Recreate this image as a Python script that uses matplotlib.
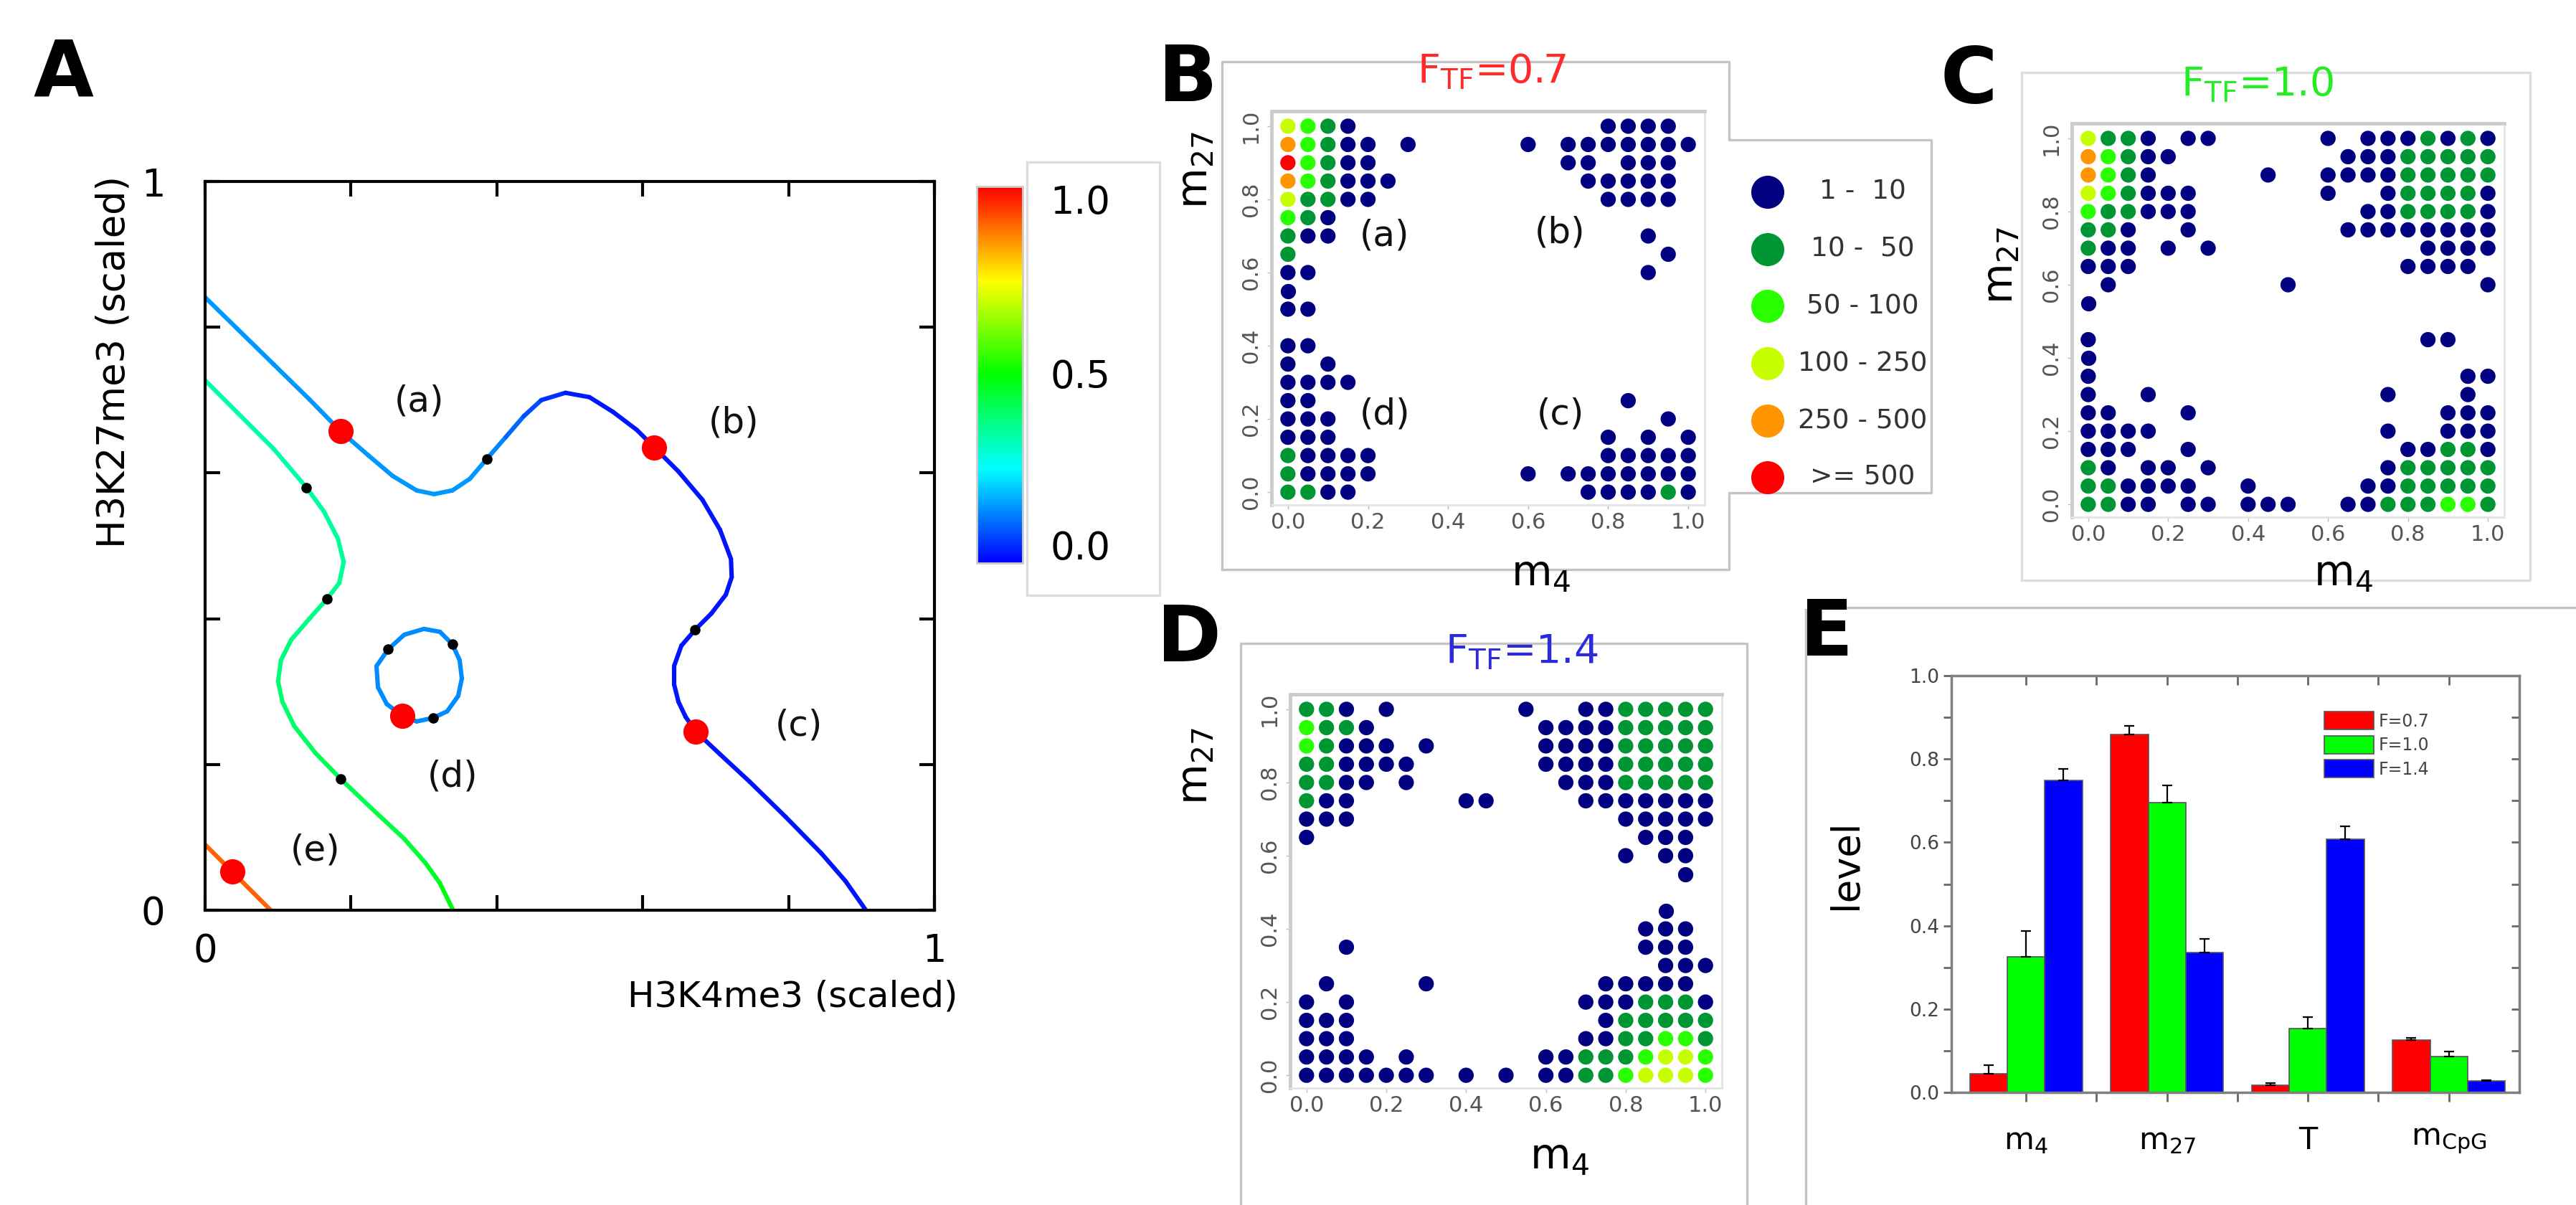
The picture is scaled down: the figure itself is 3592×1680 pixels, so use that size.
import numpy as np
import matplotlib
matplotlib.use('Agg')
import matplotlib.pyplot as plt
from matplotlib.colors import LinearSegmentedColormap, Normalize
from matplotlib.collections import LineCollection
import matplotlib.colorbar as mcolorbar

plt.rcParams['font.family'] = ['DejaVu Sans']

# ------------------------------------------------------------------ data: panel A
c1_x = [0.000, 0.045, 0.094, 0.143, 0.186, 0.224, 0.257, 0.290, 0.314, 0.339,
        0.363, 0.386, 0.412, 0.437, 0.461, 0.494, 0.527, 0.559, 0.592, 0.616,
        0.649, 0.682, 0.706, 0.721, 0.722, 0.714, 0.694, 0.672, 0.653, 0.643,
        0.643, 0.649, 0.659, 0.673, 0.706, 0.747, 0.796, 0.845, 0.878, 0.906]
c1_y = [0.841, 0.797, 0.749, 0.701, 0.657, 0.624, 0.596, 0.576, 0.571, 0.576,
        0.592, 0.619, 0.649, 0.678, 0.700, 0.710, 0.704, 0.684, 0.659, 0.635,
        0.602, 0.563, 0.522, 0.482, 0.457, 0.433, 0.407, 0.385, 0.363, 0.335,
        0.310, 0.286, 0.265, 0.245, 0.214, 0.176, 0.128, 0.078, 0.040, 0.000]
c1_v = [0.15, 0.15, 0.15, 0.15, 0.15, 0.15, 0.15, 0.15, 0.15, 0.15,
        0.15, 0.15, 0.12, 0.09, 0.06, 0.04, 0.02, 0.02, 0.02, 0.02,
        0.02, 0.02, 0.02, 0.02, 0.02, 0.02, 0.02, 0.02, 0.02, 0.02,
        0.02, 0.02, 0.02, 0.02, 0.02, 0.02, 0.02, 0.02, 0.02, 0.02]

c2_x = [0.000, 0.045, 0.094, 0.139, 0.163, 0.182, 0.190, 0.184, 0.167, 0.143, 0.118,
        0.104, 0.100, 0.106, 0.122, 0.151, 0.186, 0.229, 0.273, 0.302, 0.322, 0.340]
c2_y = [0.727, 0.682, 0.633, 0.580, 0.547, 0.510, 0.478, 0.449, 0.427, 0.400, 0.371,
        0.343, 0.314, 0.286, 0.253, 0.216, 0.180, 0.139, 0.098, 0.065, 0.037, 0.000]
c2_v = [0.33, 0.33, 0.33, 0.34, 0.34, 0.35, 0.35, 0.36, 0.36, 0.37, 0.37,
        0.38, 0.38, 0.39, 0.40, 0.41, 0.42, 0.43, 0.44, 0.45, 0.47, 0.50]

loop_x = [0.300, 0.322, 0.339, 0.349, 0.352, 0.347, 0.332, 0.313, 0.290, 0.270,
          0.249, 0.237, 0.235, 0.251, 0.273, 0.300]
loop_y = [0.386, 0.382, 0.365, 0.343, 0.318, 0.294, 0.273, 0.264, 0.259, 0.267,
          0.283, 0.306, 0.335, 0.358, 0.378, 0.386]
loop_v = 0.14

ce_x = [0.000, 0.037, 0.090]
ce_y = [0.090, 0.053, 0.000]
ce_v = 0.90

stable_x = [0.186, 0.616, 0.673, 0.270, 0.037]
stable_y = [0.657, 0.635, 0.245, 0.267, 0.053]
saddle_x = [0.386, 0.139, 0.167, 0.186, 0.672, 0.251, 0.339, 0.313]
saddle_y = [0.619, 0.580, 0.427, 0.180, 0.385, 0.358, 0.365, 0.264]

region_txt = ['(a)', '(b)', '(c)', '(d)', '(e)']
region_x = [0.294, 0.725, 0.814, 0.339, 0.151]
region_y = [0.698, 0.669, 0.253, 0.184, 0.082]

cbar_ticklabels = ['1.0', '0.5', '0.0']

# ------------------------------------------------------------------ data: panels B, C, D
bin_labels = ['1 -  10', '10 -  50', '50 - 100', '100 - 250', '250 - 500', '>= 500']
bin_colors = ['#000080', '#009633', '#2aff00', '#c8ff00', '#ff9600', '#ff0000']

rows_m27 = [1.0, 0.95, 0.9, 0.85, 0.8, 0.75, 0.7, 0.65, 0.6, 0.55, 0.5,
            0.45, 0.4, 0.35, 0.3, 0.25, 0.2, 0.15, 0.1, 0.05, 0.0]

b_m4 = [
    [0, .05, .1, .15, .8, .85, .9, .95],
    [0, .05, .1, .15, .2, .3, .6, .7, .75, .8, .85, .9, .95, 1.0],
    [0, .05, .1, .15, .2, .7, .75, .85, .9, .95],
    [0, .05, .1, .15, .2, .25, .75, .8, .85, .9, .95],
    [0, .05, .1, .15, .2, .8, .85, .9, .95],
    [0, .05, .1],
    [0, .05, .1, .9],
    [0, .95],
    [0, .05, .9],
    [0],
    [0, .05],
    [],
    [0, .05],
    [0, .1],
    [0, .05, .1, .15],
    [0, .05, .85],
    [0, .05, .1, .95],
    [0, .05, .1, .8, .9, 1.0],
    [0, .05, .1, .15, .2, .8, .85, .9, .95, 1.0],
    [0, .05, .1, .15, .2, .6, .7, .75, .8, .85, .9, .95, 1.0],
    [0, .05, .1, .15, .75, .8, .85, .9, .95, 1.0]]
b_bin = [
    [3, 2, 1, 0, 0, 0, 0, 0],
    [4, 2, 1, 0, 0, 0, 0, 0, 0, 0, 0, 0, 0, 0],
    [5, 2, 1, 0, 0, 0, 0, 0, 0, 0],
    [4, 2, 1, 0, 0, 0, 0, 0, 0, 0, 0],
    [3, 1, 1, 0, 0, 0, 0, 0, 0],
    [2, 1, 0],
    [1, 0, 0, 0],
    [1, 0],
    [0, 0, 0],
    [0],
    [0, 0],
    [],
    [0, 0],
    [0, 0],
    [0, 0, 0, 0],
    [0, 0, 0],
    [0, 0, 0, 0],
    [0, 0, 0, 0, 0, 0],
    [1, 0, 0, 0, 0, 0, 0, 0, 0, 0],
    [1, 0, 0, 0, 0, 0, 0, 0, 0, 0, 0, 0, 0],
    [1, 1, 0, 0, 0, 0, 0, 0, 1, 0]]

c_m4 = [
    [0, .05, .1, .15, .25, .3, .6, .7, .75, .8, .85, .9, .95, 1.0],
    [0, .05, .1, .15, .2, .65, .7, .75, .8, .85, .9, .95, 1.0],
    [0, .05, .1, .15, .45, .6, .65, .7, .75, .8, .85, .9, .95, 1.0],
    [0, .05, .1, .15, .2, .25, .6, .75, .8, .85, .9, .95, 1.0],
    [0, .05, .1, .15, .2, .25, .7, .75, .8, .85, .9, .95, 1.0],
    [0, .05, .1, .25, .65, .7, .75, .8, .85, .9, .95, 1.0],
    [0, .05, .1, .2, .3, .85, .9, .95, 1.0],
    [0, .05, .1, .8, .85, .9, .95],
    [.05, .5, 1.0],
    [0],
    [],
    [0, .85, .9],
    [0],
    [0, .95, 1.0],
    [0, .15, .75, .95],
    [0, .05, .25, .9, .95, 1.0],
    [0, .05, .1, .15, .75, .9, .95, 1.0],
    [0, .05, .1, .25, .8, .85, .9, .95, 1.0],
    [0, .05, .15, .2, .3, .75, .8, .85, .9, .95, 1.0],
    [0, .05, .1, .15, .2, .25, .4, .7, .75, .8, .85, .9, .95, 1.0],
    [0, .05, .1, .15, .25, .3, .4, .45, .5, .65, .7, .75, .8, .85, .9, .95, 1.0]]
c_bin = [
    [3, 1, 1, 0, 0, 0, 0, 0, 0, 0, 1, 0, 1, 0],
    [4, 2, 1, 0, 0, 0, 0, 0, 1, 1, 1, 1, 1],
    [4, 2, 1, 0, 0, 0, 0, 0, 0, 1, 1, 1, 1, 1],
    [3, 2, 1, 0, 0, 0, 0, 0, 1, 1, 1, 1, 0],
    [2, 1, 1, 0, 0, 0, 0, 0, 1, 1, 1, 1, 0],
    [1, 1, 0, 0, 0, 0, 0, 0, 0, 0, 0, 0],
    [1, 0, 0, 0, 0, 0, 0, 0, 0],
    [0, 0, 0, 0, 0, 0, 0],
    [0, 0, 0],
    [0],
    [],
    [0, 0, 0],
    [0],
    [0, 0, 0],
    [0, 0, 0, 0],
    [0, 0, 0, 0, 0, 0],
    [0, 0, 0, 0, 0, 0, 0, 0],
    [0, 0, 0, 0, 0, 0, 1, 1, 0],
    [1, 0, 0, 0, 0, 0, 1, 1, 1, 1, 1],
    [1, 1, 0, 0, 0, 0, 0, 0, 0, 1, 1, 1, 1, 1],
    [1, 1, 0, 0, 0, 0, 0, 0, 0, 0, 0, 1, 1, 1, 2, 2, 1]]

d_m4 = [
    [0, .05, .1, .2, .55, .7, .75, .8, .85, .9, .95, 1.0],
    [0, .05, .1, .15, .6, .65, .7, .75, .8, .85, .9, .95, 1.0],
    [0, .05, .1, .15, .2, .3, .6, .65, .7, .75, .8, .85, .9, .95, 1.0],
    [0, .05, .1, .15, .2, .25, .6, .65, .7, .75, .8, .85, .9, .95, 1.0],
    [0, .05, .1, .15, .25, .65, .7, .75, .8, .85, .9, .95, 1.0],
    [0, .05, .1, .4, .45, .7, .75, .8, .85, .9, .95, 1.0],
    [0, .05, .1, .8, .85, .9, .95, 1.0],
    [0, .85, .9, .95],
    [.8, .9, .95],
    [.95],
    [],
    [.9],
    [.85, .9, .95],
    [.1, .85, .9, .95],
    [.9, .95, 1.0],
    [.05, .3, .75, .8, .85, .9, .95],
    [0, .1, .7, .75, .8, .85, .9, .95, 1.0],
    [0, .05, .1, .75, .8, .85, .9, .95, 1.0],
    [0, .05, .1, .7, .75, .8, .85, .9, .95, 1.0],
    [0, .05, .1, .15, .25, .6, .65, .7, .75, .8, .85, .9, .95, 1.0],
    [0, .05, .1, .15, .2, .25, .3, .4, .5, .6, .65, .7, .75, .8, .85, .9, .95, 1.0]]
d_bin = [
    [1, 1, 0, 0, 0, 0, 0, 1, 1, 1, 1, 1],
    [2, 1, 1, 0, 0, 0, 0, 0, 1, 1, 1, 1, 1],
    [2, 1, 0, 0, 0, 0, 0, 0, 0, 0, 1, 1, 1, 1, 1],
    [1, 1, 0, 0, 0, 0, 0, 0, 0, 0, 1, 1, 1, 1, 1],
    [1, 1, 0, 0, 0, 0, 0, 0, 1, 1, 1, 1, 1],
    [1, 0, 0, 0, 0, 0, 0, 0, 0, 0, 0, 0],
    [0, 0, 0, 0, 0, 0, 0, 0],
    [0, 0, 0, 0],
    [0, 0, 0],
    [0],
    [],
    [0],
    [0, 0, 0],
    [0, 0, 0, 0],
    [0, 0, 0],
    [0, 0, 0, 0, 0, 0, 0],
    [0, 0, 0, 0, 0, 1, 1, 1, 0],
    [0, 0, 0, 0, 1, 1, 1, 1, 1],
    [0, 0, 0, 0, 0, 1, 1, 2, 2, 1],
    [0, 0, 0, 0, 0, 0, 0, 1, 1, 1, 2, 3, 3, 2],
    [0, 0, 0, 0, 0, 0, 0, 0, 0, 0, 0, 1, 1, 2, 3, 3, 3, 2]]

grid_ticks = [0.0, 0.2, 0.4, 0.6, 0.8, 1.0]
grid_ticklabels = ['0.0', '0.2', '0.4', '0.6', '0.8', '1.0']

# ------------------------------------------------------------------ data: panel E
e_groups = [r'm$_\mathregular{4}$', r'm$_\mathregular{27}$', 'T',
            r'm$_\mathregular{CpG}$']
e_f07 = [0.044, 0.859, 0.017, 0.125]
e_f07_err = [0.022, 0.021, 0.005, 0.005]
e_f10 = [0.326, 0.696, 0.153, 0.086]
e_f10_err = [0.062, 0.041, 0.027, 0.012]
e_f14 = [0.748, 0.336, 0.607, 0.027]
e_f14_err = [0.029, 0.032, 0.032, 0.002]
e_labels = ['F=0.7', 'F=1.0', 'F=1.4']
e_colors = ['#ff0000', '#00ff00', '#0000ff']

# ------------------------------------------------------------------ figure
W, H = 3592, 1680
fig = plt.figure(figsize=(W / 100, H / 100), dpi=100)


def rect(x0, y0, x1, y1):
    return [x0 / W, 1 - y1 / H, (x1 - x0) / W, (y1 - y0) / H]


cmap = LinearSegmentedColormap.from_list(
    'rb5', ['#0000ff', '#00ffff', '#00ff00', '#ffff00', '#ff0000'])
norm = Normalize(0, 1)

# ---------------- Panel A
axA = fig.add_axes(rect(286, 253, 1303, 1269))
axA.set_xlim(0, 1)
axA.set_ylim(0, 1)


def colored_line(ax, xs, ys, vs):
    pts = np.column_stack([xs, ys])
    segs = np.stack([pts[:-1], pts[1:]], axis=1)
    vv = np.asarray(vs, dtype=float)
    if vv.ndim == 0:
        vv = np.full(len(xs), float(vv))
    segv = 0.5 * (vv[:-1] + vv[1:])
    lc = LineCollection(segs, cmap=cmap, norm=norm, linewidths=4.4,
                        capstyle='round', joinstyle='round', zorder=2)
    lc.set_array(segv)
    ax.add_collection(lc)


colored_line(axA, c1_x, c1_y, c1_v)
colored_line(axA, c2_x, c2_y, c2_v)
colored_line(axA, loop_x, loop_y, loop_v)
colored_line(axA, ce_x, ce_y, ce_v)
axA.scatter(stable_x, stable_y, s=640, c='#ff0000', linewidths=0, zorder=4)
axA.scatter(saddle_x, saddle_y, s=110, c='black', linewidths=0, zorder=4)
for t, x, y in zip(region_txt, region_x, region_y):
    axA.text(x, y, t, fontsize=36, ha='center', va='center', color='#111111')

ticksA = [0, 0.2, 0.4, 0.6, 0.8, 1.0]
axA.set_xticks(ticksA)
axA.set_yticks(ticksA)
axA.set_xticklabels(['0', '', '', '', '', '1'])
axA.set_yticklabels(['0', '', '', '', '', '1'])
axA.tick_params(direction='in', top=True, right=True, length=15, width=3,
                labelsize=38, colors='black')
axA.tick_params(axis='x', pad=22)
axA.tick_params(axis='y', pad=40)
for sp in axA.spines.values():
    sp.set_linewidth(3)
fig.text(158 / W, 1 - 505 / H, 'H3K27me3 (scaled)', rotation=90, fontsize=38,
         ha='center', va='center')
fig.text(1105 / W, 1 - 1390 / H, 'H3K4me3 (scaled)', fontsize=36,
         ha='center', va='center')

# colorbar
cax = fig.add_axes(rect(1362, 260, 1426, 785))
cb = mcolorbar.ColorbarBase(cax, cmap=cmap, norm=norm, orientation='vertical')
cb.set_ticks([])
cb.outline.set_edgecolor('#cccccc')
cb.outline.set_linewidth(2)
for t, y in zip(cbar_ticklabels, [283, 526, 765]):
    fig.text(1506 / W, 1 - y / H, t, fontsize=38, ha='center', va='center')

# ---------------- Panels B, C, D


def grid_panel(box, m4_rows, bin_rows, title, tcolor, tpos, ylab_pos, xlab_pos):
    ax = fig.add_axes(rect(*box))
    for y, xs, bs in zip(rows_m27, m4_rows, bin_rows):
        if len(xs) == 0:
            continue
        ax.scatter(xs, [y] * len(xs), s=235, c=[bin_colors[b] for b in bs],
                   linewidths=0, zorder=3, clip_on=False)
    ax.set_xlim(-0.041, 1.041)
    ax.set_ylim(-0.035, 1.041)
    ax.set_xticks(grid_ticks)
    ax.set_yticks(grid_ticks)
    ax.set_xticklabels(grid_ticklabels)
    ax.set_yticklabels(grid_ticklabels, rotation=90, va='center')
    ax.tick_params(length=4, width=1, color='#bbbbbb', labelsize=22,
                   labelcolor='#555555')
    ax.tick_params(axis='x', pad=3)
    ax.tick_params(axis='y', pad=6)
    for k, sp in ax.spines.items():
        if k in ('top', 'left'):
            sp.set_color('#cccccc')
            sp.set_linewidth(3.5)
        else:
            sp.set_color('#e4e4e4')
            sp.set_linewidth(2)
    fig.text(tpos[0] / W, 1 - tpos[1] / H, r'F$_\mathregular{TF}$=' + title,
             color=tcolor, fontsize=40, ha='center', va='center', zorder=5)
    fig.text(ylab_pos[0] / W, 1 - ylab_pos[1] / H, r'm$_\mathregular{27}$',
             rotation=90, fontsize=42, ha='center', va='center')
    fig.text(xlab_pos[0] / W, 1 - xlab_pos[1] / H, r'm$_\mathregular{4}$',
             fontsize=42, ha='center', va='center', zorder=5)
    return ax


axB = grid_panel((1773, 155, 2377, 704), b_m4, b_bin, '0.7', '#ff2a2a',
                 (2080, 100), (1667, 237), (2149, 800))
for t, x, y in zip(['(a)', '(b)', '(d)', '(c)'],
                   [0.241, 0.680, 0.242, 0.681], [0.700, 0.708, 0.212, 0.212]):
    axB.text(x, y, t, fontsize=36, ha='center', va='center', color='#111111')
axC = grid_panel((2889, 172, 3492, 721), c_m4, c_bin, '1.0', '#22ee22',
                 (3148, 118), (2790, 370), (3268, 800))
axD = grid_panel((1799, 968, 2401, 1517), d_m4, d_bin, '1.4', '#2b2bd9',
                 (2122, 909), (1667, 1068), (2175, 1613))

# ---------------- Panel E
axE = fig.add_axes(rect(2721, 942, 3513, 1523))
xg = np.arange(len(e_groups))
bw = 0.266
for i, (vals, errs) in enumerate([(e_f07, e_f07_err), (e_f10, e_f10_err),
                                   (e_f14, e_f14_err)]):
    axE.bar(xg + (i - 1) * bw, vals, bw, color=e_colors[i], edgecolor='#555555',
            linewidth=1.2, label=e_labels[i], zorder=2,
            yerr=[np.zeros(len(errs)), errs], capsize=5,
            error_kw=dict(ecolor='black', elinewidth=1.6, capthick=1.6, zorder=3))
axE.set_xlim(-0.53, 3.5)
axE.set_ylim(0, 1.0)
axE.set_xticks(xg)
axE.set_xticklabels(e_groups)
axE.set_xticks([0.5, 1.5, 2.5], minor=True)
axE.set_yticks([0, 0.2, 0.4, 0.6, 0.8, 1.0])
axE.set_yticklabels(['0.0', '0.2', '0.4', '0.6', '0.8', '1.0'])
axE.set_yticks([0.1, 0.3, 0.5, 0.7, 0.9], minor=True)
axE.tick_params(axis='x', which='both', direction='out', length=9, width=2,
                color='#666666')
axE.tick_params(axis='x', which='major', labelsize=31, pad=24)
axE.tick_params(axis='y', which='both', direction='out', length=8, width=2,
                color='#666666', labelsize=19, labelcolor='#444444', pad=4)
for sp in axE.spines.values():
    sp.set_color('#7f7f7f')
    sp.set_linewidth(2.5)
sec_top = axE.secondary_xaxis('top')
sec_top.set_xticks(list(xg) + [0.5, 1.5, 2.5])
sec_top.tick_params(direction='in', length=9, width=2, color='#666666',
                    labeltop=False)
sec_top.spines['top'].set_visible(False)
sec_right = axE.secondary_yaxis('right')
sec_right.set_yticks([0, 0.1, 0.2, 0.3, 0.4, 0.5, 0.6, 0.7, 0.8, 0.9, 1.0])
sec_right.tick_params(direction='in', length=8, width=2, color='#666666',
                      labelright=False)
sec_right.spines['right'].set_visible(False)
leg = axE.legend(loc='upper left', bbox_to_anchor=(0.645, 0.93), frameon=False,
                 fontsize=17, handlelength=2.9, handleheight=1.25,
                 labelspacing=0.35, handletextpad=0.3, borderaxespad=0)
for txt in leg.get_texts():
    txt.set_color('#444444')
fig.text(2574 / W, 1 - 1205 / H, 'level', rotation=90, fontsize=38,
         ha='center', va='center')

# ---------------- overlay: frames, legend of B, panel letters
ov = fig.add_axes([0, 0, 1, 1], facecolor='none')
ov.set_xlim(0, W)
ov.set_ylim(H, 0)
ov.axis('off')
fc = '#c4c4c4'
flw = 2.4
ov.plot([1704, 1704, 2411, 2411, 2693, 2693, 2411, 2411, 1704],
        [794, 86, 86, 195, 195, 687, 687, 794, 794], color=fc, lw=flw, zorder=1)
ov.plot([1432, 1617, 1617, 1432, 1432], [226, 226, 830, 830, 226],
        color='#dddddd', lw=flw, zorder=1)
ov.plot([2819, 3528, 3528, 2819, 2819], [101, 101, 809, 809, 101],
        color='#dddddd', lw=flw, zorder=1)
ov.plot([1730, 1730, 2436, 2436], [1680, 897, 897, 1680], color=fc, lw=flw,
        zorder=1)
ov.plot([2518, 2518], [1680, 850], color=fc, lw=flw, zorder=1)
ov.plot([2574, 3592], [847, 847], color=fc, lw=flw, zorder=1)

leg_y = [268, 348, 427, 507, 587, 666]
ov.scatter([2465] * len(bin_colors), leg_y, s=1100, c=bin_colors, linewidths=0,
           zorder=3)
for t, y in zip(bin_labels, leg_y):
    ov.text(2597, y, t, fontsize=27, ha='center', va='center', color='#333333')

for t, x, y in [('A', 88, 103), ('B', 1656, 111), ('C', 2745, 113),
                ('D', 1658, 892), ('E', 2547, 884)]:
    ov.text(x, y, t, fontsize=78, fontweight='bold', ha='center', va='center')

fig.savefig('out.png', dpi=100)
